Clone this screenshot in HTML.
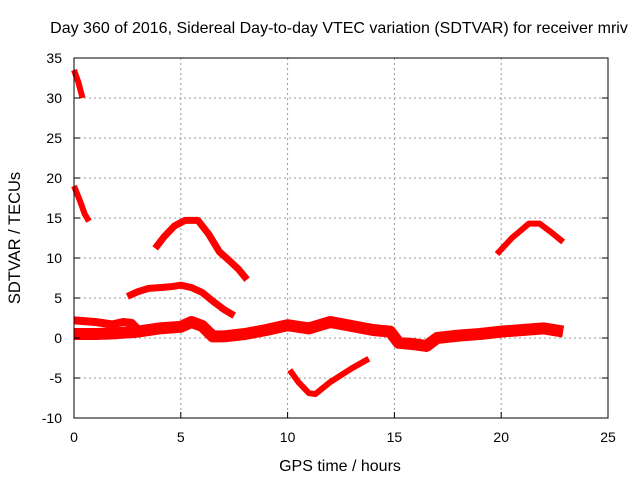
<!DOCTYPE html>
<html><head><meta charset="utf-8"><style>
body{margin:0;background:#fff;}
svg text{font-family:"Liberation Sans",sans-serif;font-size:14px;fill:#000;}
svg text.ttl{font-size:16px;}
</style></head><body>
<svg id="chart" width="640" height="480" xmlns="http://www.w3.org/2000/svg">
<g id="grid"></g>
<g id="series"></g>
<rect x="74" y="58" width="534" height="360" fill="none" stroke="#000" stroke-width="1"/>
<g id="ticks"></g>
<text class="ttl" x="339" y="33" text-anchor="middle">Day 360 of 2016, Sidereal Day-to-day VTEC variation (SDTVAR) for receiver mriv</text>
<text class="ttl" x="340" y="471" text-anchor="middle">GPS time / hours</text>
<text class="ttl" transform="translate(20,238) rotate(-90)" text-anchor="middle" style="font-size:16.5px">SDTVAR / TECUs</text>
</svg>
<script>
const xTicks=[0,5,10,15,20,25];
const yTicks=[-10,-5,0,5,10,15,20,25,30,35];
const segA_x=[0,0.2,0.4], segA_y=[33.5,32,30];
const segB_x=[0,0.3,0.5,0.7], segB_y=[19,17,15.5,14.6];
const segC_x=[3.8,4.2,4.7,5.2,5.8,6.3,6.8,7.3,7.7,8.1], segC_y=[11.2,12.6,14,14.7,14.7,13,10.8,9.6,8.6,7.3];
const segD_x=[2.5,3,3.5,4,4.5,5,5.5,6,6.5,7,7.5], segD_y=[5.2,5.8,6.2,6.3,6.4,6.6,6.3,5.7,4.6,3.6,2.8];
const segE_x=[0,1,1.8,2.3,2.7,3.1], segE_y=[2.2,2,1.7,2,1.9,0.8];
const segM_x=[0,1,2,3,4,5,5.5,6,6.5,7,8,9,10,11,12,13,14,14.8,15.2,16,16.5,17,18,19,20,21,22,22.9];
const segM_y=[0.5,0.5,0.6,0.8,1.2,1.4,2,1.5,0.2,0.2,0.5,1,1.6,1.2,2,1.5,1,0.8,-0.6,-0.8,-1,0,0.3,0.5,0.8,1,1.2,0.8];
const segF_x=[10.1,10.5,11,11.3,12,13,13.8], segF_y=[-4,-5.5,-6.9,-7,-5.5,-3.8,-2.6];
const segG_x=[19.8,20.5,21.3,21.8,22.3,22.9], segG_y=[10.5,12.5,14.3,14.3,13.3,12];
const X=v=>74+v*534/25, Y=v=>418-(v+10)*8;
const NS="http://www.w3.org/2000/svg";
const grid=document.getElementById('grid'), ticks=document.getElementById('ticks'), ser=document.getElementById('series');
function mk(t,a,p){const e=document.createElementNS(NS,t);for(const k in a)e.setAttribute(k,a[k]);p.appendChild(e);return e;}
xTicks.forEach(v=>{
  if(v>0&&v<25){const g=mk('line',{x1:X(v),x2:X(v),y1:58,y2:418,stroke:'#999','stroke-dasharray':'2,3'},grid);
  
  }
  const t=mk('line',{x1:X(v),x2:X(v),y1:418,y2:412,stroke:'#000'},ticks);
  
  
  const l=mk('text',{x:X(v),y:442,'text-anchor':'middle'},ticks);l.textContent=v;
  
  
});
yTicks.forEach(v=>{
  if(v>-10&&v<35){const g=mk('line',{x1:74,x2:608,y1:Y(v),y2:Y(v),stroke:'#999','stroke-dasharray':'2,3'},grid);
  
  }
  const t=mk('line',{x1:74,x2:80,y1:Y(v),y2:Y(v),stroke:'#000'},ticks);
  
  
  const t2=mk('line',{x1:602,x2:608,y1:Y(v),y2:Y(v),stroke:'#000'},ticks);
  
  
  const l=mk('text',{x:62,y:Y(v)+5,'text-anchor':'end'},ticks);l.textContent=v;
  
  
});
function seg(xs,ys,w,name){
  const pts=xs.map((x,i)=>X(x)+','+Y(ys[i])).join(' ');
  const p=mk('polyline',{points:pts,fill:'none',stroke:'#f00','stroke-width':w,'stroke-linejoin':'round'},ser);
  
  
}
seg(segA_x,segA_y,6,'series-segment-a');
seg(segB_x,segB_y,6,'series-segment-b');
seg(segC_x,segC_y,7,'series-segment-c');
seg(segD_x,segD_y,7,'series-segment-d');
seg(segE_x,segE_y,8,'series-segment-e');
seg(segM_x,segM_y,12,'series-main-band');
seg(segF_x,segF_y,6,'series-segment-f');
seg(segG_x,segG_y,6,'series-segment-g');
</script>
</body></html>
